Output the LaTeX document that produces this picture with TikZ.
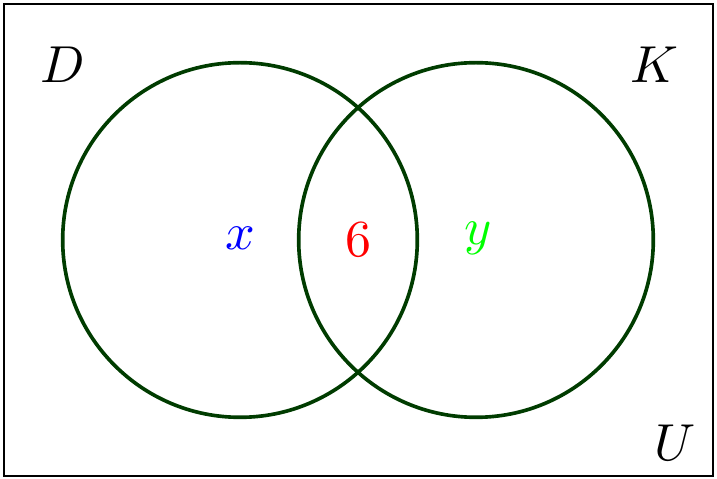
\documentclass[tikz,border=0pt]{standalone}
\definecolor{venngreen}{RGB}{0,60,0}
\begin{document}
\begin{tikzpicture}[x=0.1923pt,y=-0.1923pt,
  setcircle/.style={circle,draw=venngreen,line width=0.7pt,minimum size=68.2pt,inner sep=0pt},
  lbl/.style={inner sep=0pt}]
\useasboundingbox (0,0) rectangle (717,479);
\draw[line width=0.38pt] (4,4) rectangle (713,476);
\node[setcircle] (D) at (240,240) {};
\node[setcircle] (K) at (476,240) {};
\node[lbl] (lD) at (63,65) {$D$};
\node[lbl] (lK) at (654,65) {$K$};
\node[lbl] (lU) at (675,443) {$U$};
\node[lbl,text=blue] (lx) at (240,238) {$x$};
\node[lbl,text=red] (l6) at (358,240) {$6$};
\node[lbl,text=green] (ly) at (478,238) {$y$};
\end{tikzpicture}
\end{document}
